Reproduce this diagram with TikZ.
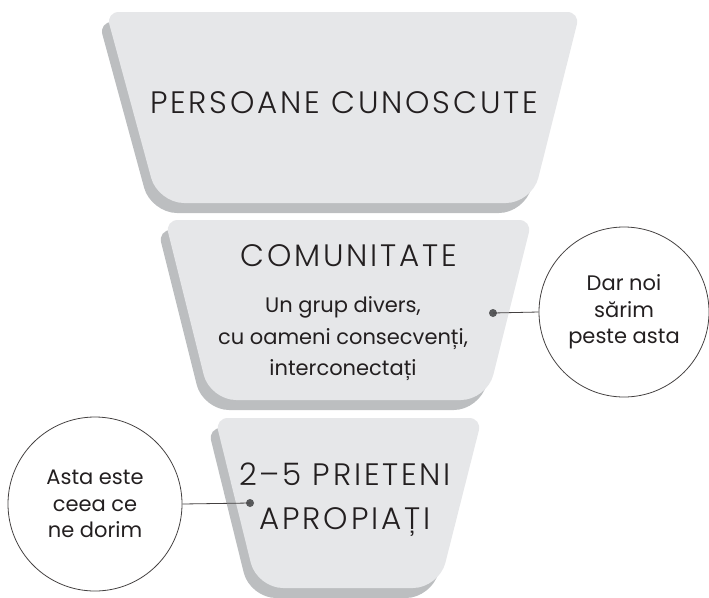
\documentclass[tikz,border=0pt]{standalone}
\usepackage{fontspec}
\setmainfont{Poppins}
\newfontfamily\titlefont{Poppins}[UprightFont=* Light, LetterSpace=9]
\definecolor{facec}{HTML}{E6E7E9}
\definecolor{shadec}{HTML}{BCBEC0}
\definecolor{ink}{HTML}{231F20}
\definecolor{dotc}{HTML}{58595B}
\tikzset{
  facebox/.style={fill=facec},
  shadebox/.style={fill=shadec},
  titletext/.style={font=\titlefont\fontsize{31}{44}\selectfont, text=ink, align=center, inner sep=0pt},
  bodytext/.style={font=\fontsize{21}{31.5}\selectfont, text=ink, align=center, inner sep=0pt},
  bubble/.style={circle, draw=ink!85, line width=0.8pt, font=\fontsize{21}{26.5}\selectfont, text=ink, align=center, inner sep=0pt},
  linkline/.style={draw=ink!85, line width=0.8pt},
  pin/.style={circle, fill=dotc, inner sep=0pt, minimum size=8pt}
}
\newcommand\trap[5]{% style, x1,x2 top / y top, bottom: #2 = (xl,xr,yt), etc.
  \path[#1] [rounded corners=13pt] (#2) -- (#3) [rounded corners=26pt] -- (#4) -- (#5) [rounded corners=13pt] -- cycle;}
\begin{document}
\begin{tikzpicture}[x=1pt,y=-1pt]
\useasboundingbox (0,0) rectangle (709,597);
% level 1
\trap{shadebox}{99,22}{573,22}{525,213}{151,213}
\trap{facebox}{106,12}{580,12}{532,203}{158,203}
% level 2
\trap{shadebox}{158,230}{525,230}{480,410}{203,410}
\trap{facebox}{165,220}{532,220}{487,400}{210,400}
% level 3
\trap{shadebox}{208,428}{475,428}{432,598}{250,598}
\trap{facebox}{215,418}{482,418}{439,588}{257,588}

\node[titletext] (t1) at (344,103) {PERSOANE CUNOSCUTE};
\node[titletext] (t2) at (349,256) {COMUNITATE};
\node[bodytext] (b2) at (343,339) {Un grup divers,\\cu oameni consecvenți,\\interconectați};
\node[titletext] (t3) at (345,500) {2–5 PRIETENI\\APROPIAȚI};

\node[bubble, minimum size=170pt] (cr) at (624,312) {Dar noi\\sărim\\peste asta};
\node[bubble, minimum size=174pt] (cl) at (95,504) {Asta este\\ceea ce\\ne dorim};

\node[pin] (p2) at (493,313) {};
\node[pin] (p3) at (250,503) {};
\draw[linkline] (p2.center) -- (cr.west);
\draw[linkline] (p3.center) -- (cl.east);
\end{tikzpicture}
\end{document}
